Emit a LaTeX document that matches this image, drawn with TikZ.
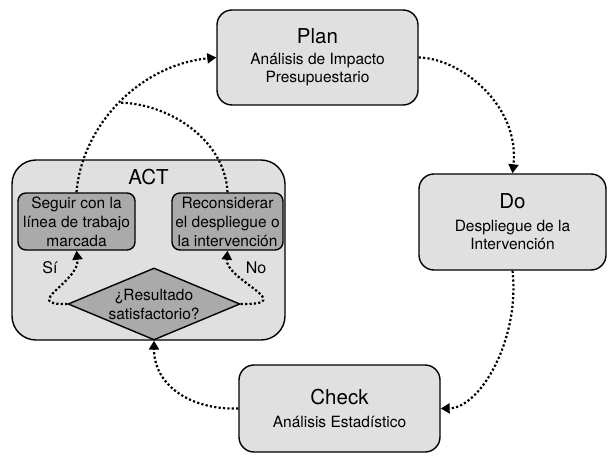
\documentclass[tikz,border=0pt]{standalone}
\usepackage{fontspec}
\setmainfont{TeX Gyre Heros}
\usetikzlibrary{arrows.meta,shapes.geometric}
\definecolor{boxlight}{RGB}{224,224,224}
\definecolor{boxdark}{RGB}{170,170,170}
\newcommand{\sub}{\fontsize{15.5}{18.5}\selectfont}
\newcommand{\ttl}[1]{{\fontsize{20.5}{24}\selectfont #1}}
\tikzset{
  bigbox/.style={draw=black, line width=1.4pt, fill=boxlight, rounded corners=15pt, align=center, inner sep=0pt, font=\sub},
  actbox/.style={draw=black, line width=1.4pt, fill=boxlight, rounded corners=24pt, inner sep=0pt},
  smallbox/.style={draw=black, line width=1.4pt, fill=boxdark, rounded corners=8pt, align=center, inner sep=0pt,
    font=\fontsize{15.5}{19}\selectfont},
  diam/.style={draw=black, line width=1.4pt, fill=boxdark, diamond, inner sep=0pt},
  dtext/.style={align=center, font=\fontsize{15.5}{19}\selectfont},
  lbl/.style={font=\fontsize{16}{19}\selectfont},
  flow/.style={line width=2.2pt, dash pattern=on 2.2pt off 2.2pt, -{Triangle[width=10pt,length=9pt]}},
  flowplain/.style={line width=2.2pt, dash pattern=on 2.2pt off 2.2pt},
}
\begin{document}
\begin{tikzpicture}[x=1pt,y=-1pt]
\useasboundingbox (0,0) rectangle (609,457);
% main boxes
\node[bigbox, minimum width=201pt, minimum height=95pt] (plan) at (317.5,57.5)
  {\ttl{Plan}\\[2pt]Análisis de Impacto\\Presupuestario};
\node[bigbox, minimum width=187pt, minimum height=96pt] (do) at (512.5,222)
  {\ttl{Do}\\[4pt]Despliegue de la\\Intervención};
\node[bigbox, minimum width=201pt, minimum height=87pt] (check) at (339.5,408.5)
  {\ttl{Check}\\[4pt]Análisis Estadístico};
% ACT container
\node[actbox, minimum width=273pt, minimum height=180pt] (act) at (148.5,250) {};
\node[font=\fontsize{20.5}{24}\selectfont] (acttitle) at (148.5,177) {ACT};
\node[smallbox, minimum width=117pt, minimum height=57pt] (seg) at (76.5,221.5)
  {Seguir con la\\línea de trabajo\\marcada};
\node[smallbox, minimum width=111pt, minimum height=57pt] (rec) at (227.5,221.5)
  {Reconsiderar\\el despliegue o\\la intervención};
\node[diam, minimum width=172pt, minimum height=72pt] (q) at (154,304) {};
\node[dtext] (qt) at (q.center) {¿Resultado\\satisfactorio?};
\node[lbl] (si) at (50,268) {Sí};
\node[lbl] (no) at (256,268) {No};
\coordinate (merge) at (120,102.6);
% connectors
\draw[flow] (seg.north) .. controls (82,125) and (140,65) .. (plan.west);
\draw[flowplain] (rec.north) .. controls (225,140) and (170,104) .. (merge);
\draw[flow] (plan.east) .. controls (460,58) and (520,105) .. (do.north);
\draw[flow] (do.south) .. controls (520,340) and (480,408) .. (check.east);
\draw[flow] (check.west) .. controls (190,410) and (154,385) .. (q.south);
\draw[flow] (q.west) .. controls (20,305) and (80,282) .. (seg.south);
\draw[flow] (q.east) .. controls (300,305) and (225,280) .. (rec.south);
\end{tikzpicture}
\end{document}
